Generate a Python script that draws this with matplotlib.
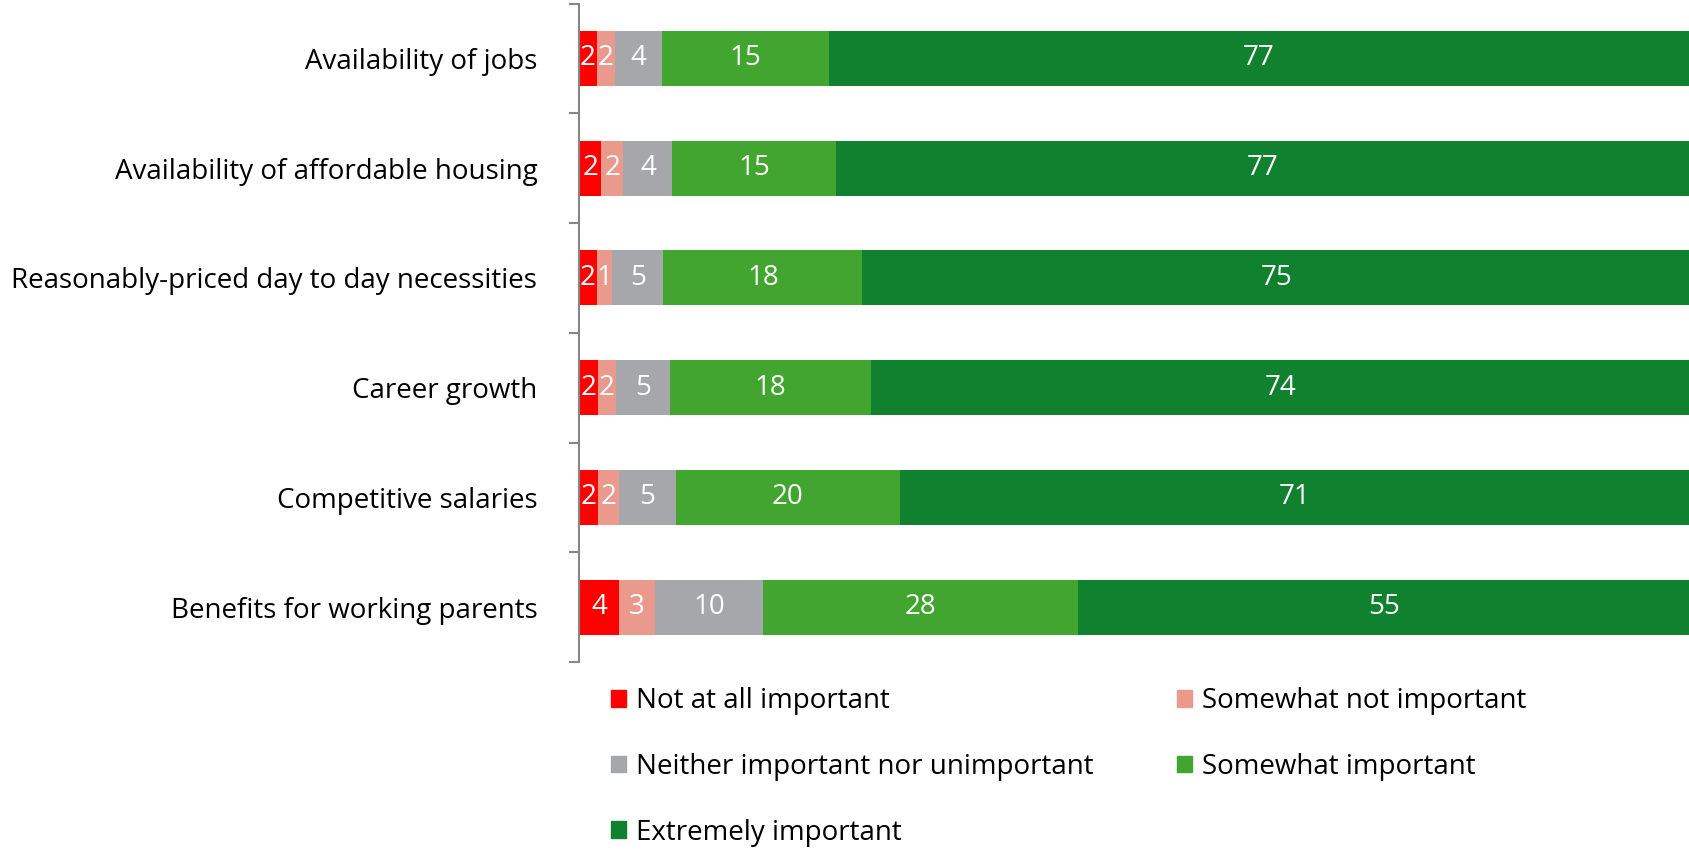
import numpy as np
import matplotlib.pyplot as plt
from matplotlib.patches import Patch

plt.rcParams['font.family'] = ['Open Sans', 'DejaVu Sans']

categories = [
    "Availability of jobs",
    "Availability of affordable housing",
    "Reasonably-priced day to day necessities",
    "Career growth",
    "Competitive salaries",
    "Benefits for working parents",
]

# percent shares per response, labels are rounded
not_at_all = [1.6, 2.0, 1.6, 1.7, 1.7, 3.6]
somewhat_not = [1.6, 2.0, 1.4, 1.6, 1.9, 3.2]
neither = [4.3, 4.4, 4.6, 4.9, 5.1, 9.8]
somewhat_imp = [15.0, 14.7, 17.9, 18.1, 20.2, 28.3]
extremely = [77.4, 76.9, 74.6, 73.7, 71.1, 55.2]

series_names = [
    "Not at all important",
    "Somewhat not important",
    "Neither important nor unimportant",
    "Somewhat important",
    "Extremely important",
]
colors = ["#FF0000", "#E99A8D", "#A6A7AB", "#41A52F", "#10812F"]

series = [not_at_all, somewhat_not, neither, somewhat_imp, extremely]

fig = plt.figure(figsize=(16.9, 8.5), dpi=100)
ax = fig.add_axes([579 / 1690, 1 - 662 / 850, 1 - 579 / 1690, (662 - 3.5) / 850])

y = np.arange(len(categories))
left = np.zeros(len(categories))
for vals, name, col in zip(series, series_names, colors):
    vals = np.array(vals)
    ax.barh(y, vals, left=left, height=0.5, color=col, label=name)
    for yi, (l, v) in enumerate(zip(left, vals)):
        ax.text(l + v / 2, yi, str(int(v + 0.5)), ha='center', va='center',
                color='white', fontsize=20)
    left += vals

ax.set_xlim(0, 100)
ax.set_ylim(len(categories) - 0.5, -0.5)
ax.set_xticks([])
ax.set_yticks(y)
ax.set_yticklabels(categories, fontsize=20)
ax.set_yticks(np.arange(-0.5, len(categories)), minor=True)
ax.tick_params(axis='y', which='major', length=0, pad=30)
ax.tick_params(axis='y', which='minor', length=7.2, width=1.5, color='#868686', direction='out')
for s in ['top', 'right', 'bottom']:
    ax.spines[s].set_visible(False)
ax.spines['left'].set_color('#868686')
ax.spines['left'].set_linewidth(1.5)

handles = [Patch(color=c) for c in colors]
order = [0, 2, 4, 1, 3]
fig.legend([handles[i] for i in order], [series_names[i] for i in order],
           loc='upper left', bbox_to_anchor=(600 / 1690, 1 - 676 / 850),
           ncol=2, frameon=False, fontsize=20, handlelength=0.55, handleheight=0.55,
           handletextpad=0.35, labelspacing=1.36, columnspacing=3.0, borderaxespad=0)

plt.savefig("out.png", dpi=100)
